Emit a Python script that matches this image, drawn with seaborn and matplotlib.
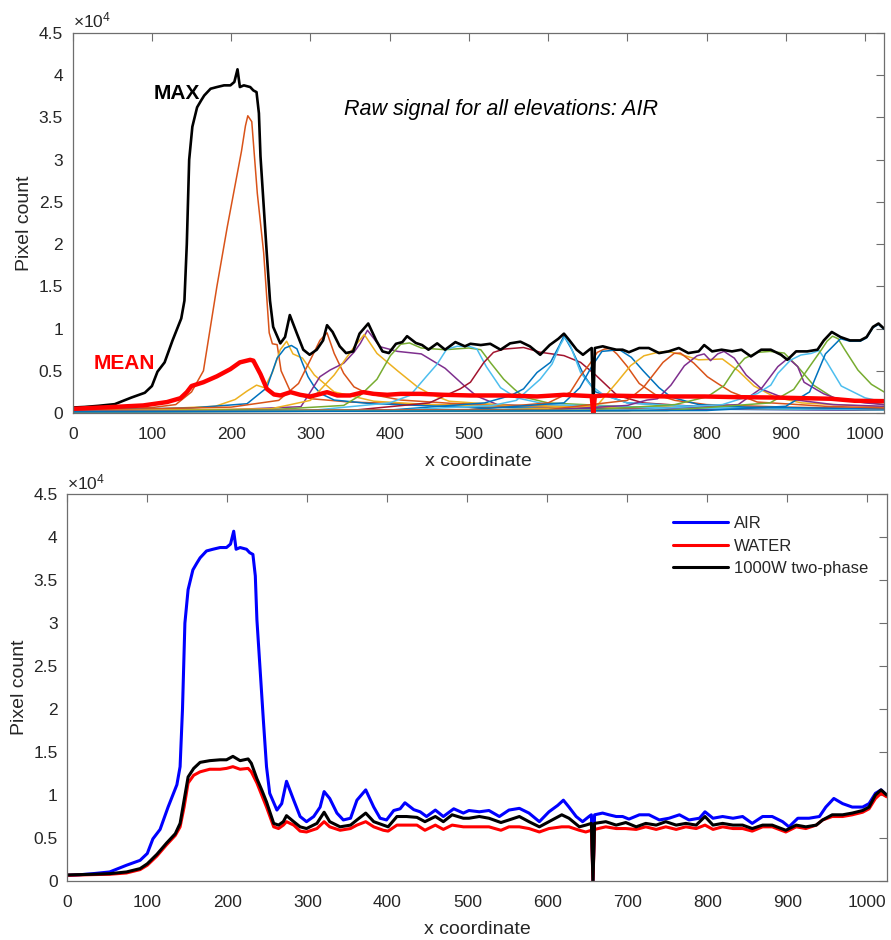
import matplotlib
matplotlib.use("Agg")
import matplotlib.pyplot as plt
from matplotlib.ticker import FuncFormatter, MultipleLocator
import numpy as np
import pandas as pd
import seaborn as sns

# ---------------------------------------------------------------- data
# Maximum over all elevations for AIR (same trace as the AIR curve below)
air_x = [0, 15, 32, 53, 74, 91, 100, 107, 116, 126, 137, 141, 144, 147, 151, 157,
         162, 166, 174, 182, 191, 199, 204, 208, 211, 216, 224, 228, 232, 235, 237,
         241, 245, 249, 253, 262, 268, 274, 283, 291, 299, 308, 316, 321, 328, 337,
         345, 354, 362, 373, 383, 391, 399, 408, 416, 422, 433, 441, 449, 460, 470,
         483, 495, 502, 515, 527, 540, 552, 565, 577, 590, 602, 613, 620, 627, 636,
         644, 652, 655, 657, 659, 669, 677, 686, 694, 702, 715, 727, 740, 752, 765,
         777, 790, 797, 807, 819, 832, 844, 856, 869, 881, 894, 902, 913, 927, 940,
         948, 958, 969, 981, 994, 1002, 1010, 1017, 1024]
air_y = [650, 720, 850, 1050, 1830, 2400, 3200, 4900, 6000, 8600, 11200, 13300, 20000,
         30000, 33900, 36200, 37000, 37600, 38400, 38600, 38800, 38800, 39200, 40700,
         38600, 38800, 38600, 38200, 38000, 35500, 30400, 24600, 18800, 13300, 10200,
         8250, 9000, 11600, 9400, 7500, 6900, 7500, 8600, 10400, 9600, 7900, 7100, 7300,
         9400, 10600, 8600, 7300, 7100, 8200, 8400, 9100, 8300, 8050, 7500, 8250, 7500,
         8400, 7900, 8200, 8050, 8200, 7500, 8250, 8450, 7900, 6900, 8050, 8800, 9400,
         8600, 7500, 6900, 7500, 7700, 0, 7700, 7900, 7700, 7500, 7500, 7200, 7700, 7700,
         7100, 7300, 7700, 7100, 7300, 8050, 7300, 7500, 7300, 7500, 6700, 7500, 7500,
         6900, 6300, 7300, 7300, 7500, 8600, 9600, 9000, 8600, 8600, 9000, 10200, 10600,
         10000]

# WATER and 1000W two-phase share one sampling grid
phase_x = [0, 32, 53, 74, 91, 100, 112, 124, 135, 141, 146, 151, 158, 166, 178, 191,
           199, 207, 216, 226, 230, 237, 243, 249, 258, 264, 270, 274, 283, 291, 299,
           312, 321, 328, 341, 354, 362, 373, 383, 395, 401, 412, 424, 437, 447, 460,
           470, 481, 495, 502, 515, 527, 542, 552, 565, 577, 590, 602, 618, 627, 640,
           648, 655, 657, 659, 673, 686, 698, 711, 723, 736, 748, 761, 773, 786, 797,
           807, 819, 832, 844, 856, 869, 881, 898, 911, 923, 936, 944, 956, 969, 981,
           994, 1002, 1010, 1017, 1024]
twophase_y = [700, 780, 850, 1050, 1440, 2000, 3100, 4400, 5500, 6700, 9400, 12100,
              13100, 13800, 14000, 14100, 14100, 14500, 14000, 14200, 13700, 11900,
              10600, 9200, 6700, 6500, 6900, 7600, 6900, 6300, 6100, 6700, 8000, 6900,
              6300, 6500, 7100, 7900, 6900, 6500, 6300, 7500, 7500, 7400, 6900, 7500,
              6900, 7700, 7300, 7300, 7500, 7300, 6800, 7100, 7500, 6900, 6300, 6900,
              7700, 7300, 6300, 6500, 6700, 0, 6700, 6900, 6500, 6800, 6300, 6700, 6500,
              6900, 6500, 6700, 6500, 7500, 6500, 6700, 6500, 6500, 6100, 6500, 6500,
              5900, 6500, 6300, 6500, 7100, 7700, 7700, 7900, 8200, 8600, 10000, 10600,
              10000]
water_y = [660, 740, 780, 930, 1320, 1830, 2900, 4200, 5300, 6300, 8600, 11400, 12300,
           12700, 13000, 13000, 13100, 13300, 13000, 13100, 12700, 11400, 10000, 8600,
           6300, 6100, 6500, 6900, 6500, 5800, 5700, 6100, 6900, 6300, 5900, 6100, 6500,
           6900, 6300, 5900, 5800, 6500, 6500, 6500, 5900, 6500, 6000, 6500, 6300, 6300,
           6300, 6300, 5900, 6300, 6300, 6100, 5700, 6100, 6300, 6300, 5900, 5700, 5900,
           0, 6000, 6300, 6100, 6100, 6000, 6300, 6000, 6300, 6000, 6300, 6100, 6500,
           6000, 6300, 6100, 6100, 5800, 6300, 6300, 5700, 6300, 6100, 6500, 7100, 7500,
           7500, 7700, 8000, 8400, 9600, 10200, 9800]

# Mean over all elevations for AIR
mean_x = [0, 47, 89, 119, 136, 144, 150, 165, 182, 199, 211, 224, 228, 237, 245, 254,
          262, 275, 287, 300, 313, 321, 334, 350, 367, 380, 397, 414, 439, 468, 502,
          544, 586, 620, 655, 657, 659, 671, 713, 755, 797, 839, 881, 923, 957, 987, 1024]
mean_y = [500, 700, 900, 1300, 1760, 2470, 3200, 3650, 4350, 5200, 6000, 6300, 6200,
          4600, 2860, 2200, 2080, 2470, 2160, 1960, 2270, 2470, 2080, 2080, 2470, 2270,
          2160, 2270, 2270, 2160, 2080, 2080, 1960, 2160, 2000, 0, 2000, 2080, 2000, 1960,
          1960, 1880, 1840, 1760, 1690, 1450, 1410]

# Raw signal of the individual elevations (AIR)
elev_names = ["e01", "e02", "e03", "e04", "e05", "e06", "e07", "e08", "e09", "e10",
              "e11", "e12", "e13", "e14", "e15", "e16", "e17", "e18", "e19", "e20",
              "e21"]
elev_colors = ["#D95319", "#EDB120", "#0072BD", "#D95319", "#7E2F8E", "#EDB120",
               "#77AC30", "#4DBEEE", "#A2142F", "#0072BD", "#4DBEEE", "#D95319",
               "#0072BD", "#EDB120", "#D95319", "#7E2F8E", "#77AC30", "#7E2F8E",
               "#4DBEEE", "#77AC30", "#0072BD"]
elev_x = [
    [0, 60, 100, 130, 150, 165, 182, 195, 205, 213, 218, 221, 226, 233, 241, 248, 252,
     258, 263, 275, 300, 350, 450, 600, 800, 1024],
    [0, 100, 180, 205, 220, 232, 242, 252, 262, 270, 278, 290, 305, 330, 380, 450, 600,
     1024],
    [0, 150, 220, 245, 258, 268, 276, 283, 290, 297, 305, 313, 330, 372, 477, 600, 800,
     1024],
    [0, 200, 260, 285, 300, 312, 321, 330, 342, 355, 372, 414, 477, 600, 800, 1024],
    [0, 200, 288, 300, 312, 325, 342, 355, 363, 372, 388, 410, 440, 470, 494, 510, 536,
     600, 750, 1024],
    [0, 250, 300, 330, 355, 368, 384, 410, 435, 450, 475, 550, 700, 1024],
    [0, 250, 342, 363, 384, 401, 414, 425, 440, 470, 500, 515, 527, 544, 557, 569, 600,
     700, 850, 1024],
    [0, 300, 400, 426, 447, 460, 472, 485, 500, 510, 522, 540, 560, 600, 750, 1024],
    [0, 350, 450, 489, 502, 519, 531, 544, 569, 590, 620, 641, 660, 687, 720, 800, 1024],
    [0, 400, 520, 553, 569, 586, 603, 614, 620, 630, 645, 660, 700, 800, 1024],
    [0, 400, 530, 560, 590, 605, 615, 621, 628, 641, 654, 671, 700, 800, 1024],
    [0, 500, 600, 628, 641, 654, 662, 671, 679, 687, 700, 715, 735, 760, 800, 900, 1024],
    [0, 500, 620, 640, 655, 668, 690, 705, 720, 740, 755, 790, 850, 1024],
    [0, 550, 640, 662, 687, 704, 721, 738, 750, 765, 790, 820, 840, 860, 886, 920, 1024],
    [0, 600, 700, 720, 745, 759, 767, 784, 801, 814, 831, 864, 950, 1024],
    [0, 600, 700, 725, 738, 755, 772, 788, 797, 805, 814, 822, 835, 850, 870, 900, 960,
     1024],
    [0, 650, 760, 801, 822, 835, 848, 864, 880, 898, 915, 935, 960, 1024],
    [0, 700, 840, 870, 890, 903, 915, 923, 940, 948, 965, 1000, 1024],
    [0, 700, 820, 864, 881, 890, 906, 919, 932, 942, 952, 970, 1000, 1024],
    [0, 750, 880, 910, 930, 945, 952, 959, 966, 974, 991, 1008, 1024],
    [0, 800, 900, 930, 950, 969, 981, 994, 1002, 1010, 1017, 1024],
]
elev_y = [
    [400, 500, 650, 1000, 2500, 5000, 15000, 22000, 27000, 31000, 34000, 35200, 34500,
     26000, 19000, 9500, 8200, 8100, 5000, 2500, 1700, 1300, 1000, 800, 600, 500],
    [300, 450, 800, 1600, 2600, 3300, 3000, 4800, 7500, 8500, 7000, 6500, 4500, 2500,
     1400, 1000, 700, 400],
    [350, 600, 1100, 3000, 6500, 7700, 8000, 7600, 5900, 4300, 3100, 2300, 1540, 1150,
     750, 550, 450, 350],
    [300, 700, 1500, 3500, 6300, 8600, 9500, 7060, 4700, 3100, 2300, 1540, 1150, 800,
     600, 450],
    [250, 400, 750, 2500, 4300, 5100, 5900, 7200, 8250, 9800, 7850, 7300, 7000, 5300,
     3250, 2000, 1000, 700, 500, 350],
    [250, 500, 1500, 4500, 7800, 9300, 7060, 5000, 3100, 2300, 1400, 900, 650, 450],
    [200, 400, 900, 2100, 4000, 6800, 8150, 8300, 7700, 7500, 7700, 7500, 6000, 4000,
     2860, 1900, 1200, 750, 550, 400],
    [150, 300, 1200, 2100, 4400, 5800, 7560, 7900, 7900, 7600, 5500, 3000, 1800, 1000,
     600, 400],
    [150, 300, 1200, 2860, 3650, 6000, 7180, 7570, 7760, 7200, 6800, 6000, 4500, 2100,
     1200, 700, 450],
    [200, 350, 1200, 2080, 2860, 4800, 6000, 7960, 9140, 7500, 4500, 2500, 1200, 700,
     450],
    [150, 300, 900, 1500, 4000, 5800, 8000, 9000, 8000, 4800, 3250, 2080, 1200, 700,
     400],
    [200, 400, 1200, 2470, 4400, 6000, 7180, 7570, 7650, 6980, 5500, 3500, 2200, 1500,
     1000, 700, 500],
    [200, 400, 1200, 3000, 5500, 7300, 7500, 6600, 5000, 3000, 1900, 1000, 700, 500],
    [200, 400, 700, 900, 3650, 5600, 6780, 7180, 7300, 7000, 6300, 6400, 5000, 3200,
     1900, 1200, 700],
    [200, 400, 1500, 3000, 6000, 7060, 7100, 5900, 4300, 3500, 2500, 1300, 800, 600],
    [200, 350, 900, 1540, 1690, 3300, 5600, 6780, 7000, 6200, 7000, 7300, 6500, 4500,
     2800, 1700, 1000, 800],
    [150, 350, 1000, 1930, 3250, 5090, 6470, 7180, 7300, 7100, 5500, 3300, 1800, 1000],
    [150, 300, 1000, 3000, 5500, 6500, 5500, 3650, 2700, 2270, 1700, 1200, 1000],
    [150, 300, 1000, 2300, 3300, 4700, 6270, 6870, 7060, 7400, 6000, 3200, 1800, 1300],
    [150, 300, 1200, 2800, 5500, 7500, 8500, 9100, 8800, 7570, 5090, 3400, 2500],
    [150, 300, 800, 2500, 7000, 8800, 8500, 8500, 8900, 10100, 10500, 9900],
]

x_ticks = list(range(0, 1001, 100))
x_max = 1024
y_max = 45000

# ---------------------------------------------------------------- style
sns.set_style("white")
plt.rcParams["font.family"] = ["Liberation Sans", "DejaVu Sans"]
plt.rcParams["mathtext.fontset"] = "custom"
plt.rcParams["mathtext.rm"] = "Liberation Sans"
TXT_COL = "#262626"
SPINE_COL = "#6e6e6e"

fig = plt.figure(figsize=(8.91, 9.4), dpi=100)
ax1 = fig.add_axes([0.0816, 0.5606, 0.9106, 0.4043])
ax2 = fig.add_axes([0.0755, 0.0628, 0.9196, 0.4114])

def style_axes(ax):
    ax.set_xlim(0, x_max)
    ax.set_ylim(0, y_max)
    ax.set_xticks(x_ticks)
    ax.yaxis.set_major_locator(MultipleLocator(5000))
    ax.yaxis.set_major_formatter(FuncFormatter(lambda v, p: f"{v / 1e4:g}"))
    ax.tick_params(direction="in", length=5.5, width=0.8, color=SPINE_COL,
                   labelcolor=TXT_COL, labelsize=12.5, top=True, right=True)
    ax.tick_params(axis="x", pad=10)
    ax.tick_params(axis="y", pad=7)
    for sp in ax.spines.values():
        sp.set_visible(True)
        sp.set_color(SPINE_COL)
        sp.set_linewidth(0.9)
    ax.set_xlabel("x coordinate", fontsize=14, color=TXT_COL, labelpad=8)
    ax.set_ylabel("Pixel count", fontsize=14, color=TXT_COL, labelpad=4)
    ax.text(0.0, 1.006, r"$\times\mathregular{10^{4}}$", transform=ax.transAxes,
            ha="left", va="bottom", fontsize=12.5, color=TXT_COL)

# ---------------------------------------------------------------- top panel
rows = []
for name, xs, ys in zip(elev_names, elev_x, elev_y):
    for xv, yv in zip(xs, ys):
        rows.append((name, xv, yv))
elev_df = pd.DataFrame(rows, columns=["elevation", "x", "count"])
sns.lineplot(data=elev_df, x="x", y="count", hue="elevation", hue_order=elev_names,
             palette=dict(zip(elev_names, elev_colors)), estimator=None, sort=False,
             linewidth=1.1, legend=False, ax=ax1)

max_df = pd.DataFrame({"x": air_x, "count": air_y})
sns.lineplot(data=max_df, x="x", y="count", color="black", linewidth=1.9,
             estimator=None, sort=False, ax=ax1)
mean_df = pd.DataFrame({"x": mean_x, "count": mean_y})
sns.lineplot(data=mean_df, x="x", y="count", color="#FF0000", linewidth=3.2,
             estimator=None, sort=False, ax=ax1)

ax1.text(161, 37800, "MAX", ha="right", va="center", fontsize=15,
         fontweight="bold", color="black")
ax1.text(26, 5900, "MEAN", ha="left", va="center", fontsize=15,
         fontweight="bold", color="#FF0000")
ax1.text(342, 35900, "Raw signal for all elevations: AIR", ha="left", va="center",
         fontsize=15.5, fontstyle="italic", color="black")
style_axes(ax1)

# ---------------------------------------------------------------- bottom panel
air_df = pd.DataFrame({"x": air_x, "count": air_y})
water_df = pd.DataFrame({"x": phase_x, "count": water_y})
two_df = pd.DataFrame({"x": phase_x, "count": twophase_y})
sns.lineplot(data=air_df, x="x", y="count", color="#0000FF", linewidth=2.2,
             estimator=None, sort=False, label="AIR", ax=ax2)
sns.lineplot(data=water_df, x="x", y="count", color="#FF0000", linewidth=2.2,
             estimator=None, sort=False, label="WATER", ax=ax2)
sns.lineplot(data=two_df, x="x", y="count", color="black", linewidth=2.2,
             estimator=None, sort=False, label="1000W two-phase", ax=ax2)
style_axes(ax2)
ax2.legend(loc="upper left", bbox_to_anchor=(673 / 891, 1 - 516 / 940),
           bbox_transform=fig.transFigure, frameon=False, fontsize=12,
           handlelength=3.3, handletextpad=0.35, labelspacing=0.46,
           borderpad=0, borderaxespad=0)

fig.savefig("out.png", dpi=100)
